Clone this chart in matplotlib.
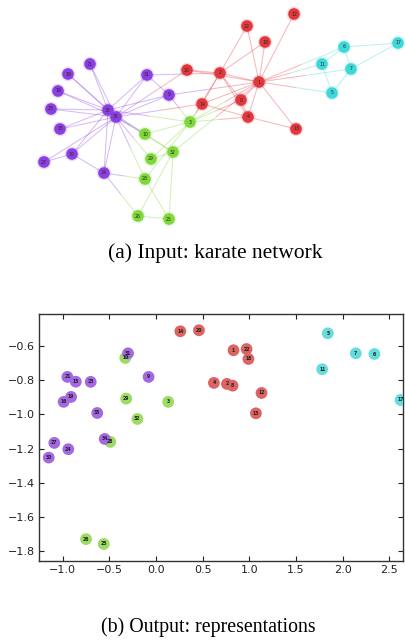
import matplotlib
matplotlib.use("Agg")
import matplotlib.pyplot as plt
import numpy as np

# ---------------- data ----------------
node_ids = list(range(1, 35))

# community of each node (1-indexed)
red_nodes = [1, 2, 4, 8, 12, 13, 14, 18, 20, 22]
cyan_nodes = [5, 6, 7, 11, 17]
green_nodes = [3, 10, 25, 26, 28, 29, 32]
purple_nodes = [9, 15, 16, 19, 21, 23, 24, 27, 30, 31, 33, 34]

# Zachary karate club edges
edges = [(2, 1), (3, 1), (3, 2), (4, 1), (4, 2), (4, 3), (5, 1), (6, 1), (7, 1), (7, 5), (7, 6),
         (8, 1), (8, 2), (8, 3), (8, 4), (9, 1), (9, 3), (10, 3), (11, 1), (11, 5), (11, 6),
         (12, 1), (13, 1), (13, 4), (14, 1), (14, 2), (14, 3), (14, 4), (17, 6), (17, 7),
         (18, 1), (18, 2), (20, 1), (20, 2), (22, 1), (22, 2), (26, 24), (26, 25), (28, 3),
         (28, 24), (28, 25), (29, 3), (30, 24), (30, 27), (31, 2), (31, 9), (32, 1), (32, 25),
         (32, 26), (32, 29), (33, 3), (33, 9), (33, 15), (33, 16), (33, 19), (33, 21), (33, 23),
         (33, 24), (33, 30), (33, 31), (33, 32), (34, 9), (34, 10), (34, 14), (34, 15), (34, 16),
         (34, 19), (34, 20), (34, 21), (34, 23), (34, 24), (34, 27), (34, 28), (34, 29), (34, 30),
         (34, 31), (34, 32), (34, 33)]

# network layout (input drawing)
layout_x = {1: 259, 2: 220, 3: 190, 4: 248, 5: 332, 6: 344, 7: 351, 8: 241, 9: 169, 10: 145,
            11: 322, 12: 294, 13: 296, 14: 202, 15: 60, 16: 58, 17: 398, 18: 265, 19: 68,
            20: 187, 21: 90, 22: 247, 23: 51, 24: 104, 25: 169, 26: 138, 27: 44, 28: 145,
            29: 151, 30: 72, 31: 147, 32: 173, 33: 108, 34: 116}
layout_y = {1: 82, 2: 73, 3: 122, 4: 117, 5: 93, 6: 47, 7: 69, 8: 100, 9: 95, 10: 134,
            11: 64, 12: 14, 13: 129, 14: 104, 15: 129, 16: 91, 17: 43, 18: 42, 19: 74,
            20: 70, 21: 64, 22: 26, 23: 109, 24: 173, 25: 219, 26: 216, 27: 162, 28: 179,
            29: 159, 30: 154, 31: 75, 32: 152, 33: 110, 34: 117}

# learned 2-D representations (output)
rep_x = {1: 0.83, 2: 0.76, 3: 0.13, 4: 0.62, 5: 1.84, 6: 2.34, 7: 2.14, 8: 0.82, 9: -0.08,
         10: -0.33, 11: 1.78, 12: 1.13, 13: 1.07, 14: 0.26, 15: -0.86, 16: -0.99, 17: 2.62,
         18: 0.99, 19: -0.91, 20: 0.46, 21: -0.95, 22: 0.97, 23: -0.70, 24: -0.94, 25: -0.56,
         26: -0.75, 27: -1.09, 28: -0.49, 29: -0.32, 30: -1.15, 31: -0.30, 32: -0.20,
         33: -0.63, 34: -0.55}
rep_y = {1: -0.625, 2: -0.822, 3: -0.927, 4: -0.816, 5: -0.526, 6: -0.647, 7: -0.643,
         8: -0.832, 9: -0.781, 10: -0.670, 11: -0.736, 12: -0.875, 13: -0.994, 14: -0.514,
         15: -0.809, 16: -0.927, 17: -0.916, 18: -0.676, 19: -0.898, 20: -0.508, 21: -0.781,
         22: -0.618, 23: -0.810, 24: -1.204, 25: -1.758, 26: -1.730, 27: -1.167, 28: -1.161,
         29: -0.908, 30: -1.253, 31: -0.643, 32: -1.027, 33: -0.992, 34: -1.144}

x_ticks = [-1.0, -0.5, 0.0, 0.5, 1.0, 1.5, 2.0, 2.5]
y_ticks = [-0.6, -0.8, -1.0, -1.2, -1.4, -1.6, -1.8]
caption_a = "(a) Input: karate network"
caption_b = "(b) Output: representations"

# ---------------- style ----------------
net_col = {'red': '#e0383f', 'cyan': '#3fd8d8', 'green': '#7ed83a', 'purple': '#8a3fe0'}
rep_col = {'red': '#dc6462', 'cyan': '#66dcdc', 'green': '#9cdc64', 'purple': '#a468e2'}


def group(n):
    if n in red_nodes:
        return 'red'
    if n in cyan_nodes:
        return 'cyan'
    if n in green_nodes:
        return 'green'
    return 'purple'


W, H = 406, 641
fig = plt.figure(figsize=(W / 100, H / 100), dpi=100)

# ---------------- (a) network ----------------
ax1 = fig.add_axes([0, 1 - 235 / H, 1, 235 / H])
ax1.set_xlim(0, W)
ax1.set_ylim(235, 0)
ax1.axis('off')
for a, b in edges:
    xa, ya = layout_x[a], layout_y[a]
    xb, yb = layout_x[b], layout_y[b]
    xm, ym = (xa + xb) / 2, (ya + yb) / 2
    ax1.plot([xa, xm], [ya, ym], color=net_col[group(a)], lw=0.75, alpha=0.35,
             solid_capstyle='butt', zorder=1)
    ax1.plot([xm, xb], [ym, yb], color=net_col[group(b)], lw=0.75, alpha=0.35,
             solid_capstyle='butt', zorder=1)
for n in node_ids:
    ax1.scatter(layout_x[n], layout_y[n], s=110, color=net_col[group(n)], alpha=0.18,
                edgecolors='none', zorder=2)
    ax1.scatter(layout_x[n], layout_y[n], s=70, color=net_col[group(n)],
                edgecolors='none', zorder=3)
    ax1.text(layout_x[n], layout_y[n], str(n), fontsize=3.3, ha='center', va='center',
             color='#3a2020', zorder=4)

fig.text(215 / W, 1 - 253 / H, caption_a, ha='center', va='center',
         fontsize=15.5, family='Liberation Serif')

# ---------------- (b) representations ----------------
ax2 = fig.add_axes([39 / W, 1 - 561 / H, (403 - 39) / W, (561 - 313.5) / H])
for n in node_ids:
    ax2.scatter(rep_x[n], rep_y[n], s=72, color=rep_col[group(n)], edgecolors='none',
                zorder=3)
    ax2.text(rep_x[n], rep_y[n], str(n), fontsize=3.3, ha='center', va='center',
             color='#222222', fontweight='bold', zorder=4)
ax2.set_xlim(-1.254, 2.646)
ax2.set_ylim(-1.858, -0.41)
ax2.set_xticks(x_ticks)
ax2.set_yticks(y_ticks)
ax2.set_xticklabels([f"{v:.1f}".replace('-', '\u2212') for v in x_ticks])
ax2.set_yticklabels([f"{v:.1f}".replace('-', '\u2212') for v in y_ticks])
ax2.tick_params(direction='in', top=True, right=True, length=3.5, width=0.8,
                labelsize=8, colors='#222222', pad=3)
for sp in ax2.spines.values():
    sp.set_color('#333333')
    sp.set_linewidth(1.0)

fig.text(208 / W, 1 - 627 / H, caption_b, ha='center', va='center',
         fontsize=14.3, family='Liberation Serif')

fig.savefig('out.png', dpi=100)
